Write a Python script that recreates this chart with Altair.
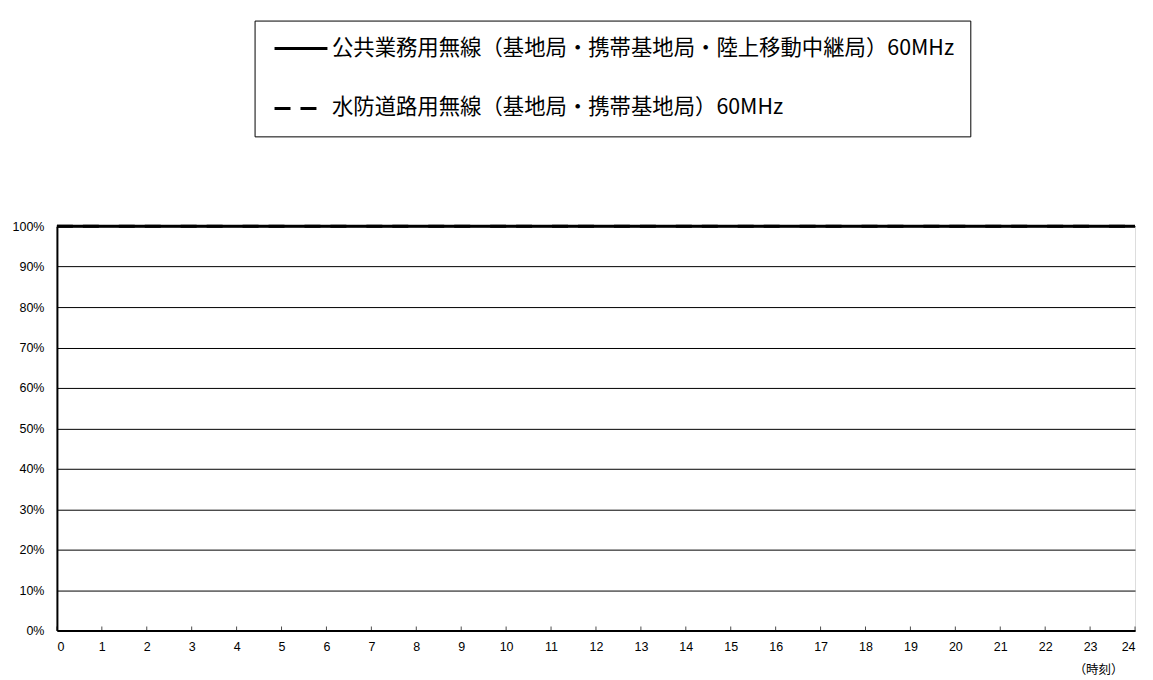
import altair as alt
import pandas as pd

hours = [0, 1, 2, 3, 4, 5, 6, 7, 8, 9, 10, 11, 12, 13, 14, 15, 16, 17, 18, 19, 20, 21, 22, 23, 24]
series_names = [
    "公共業務用無線（基地局・携帯基地局・陸上移動中継局）60MHz",
    "水防道路用無線（基地局・携帯基地局）60MHz",
]
public_values = [100, 100, 100, 100, 100, 100, 100, 100, 100, 100, 100, 100, 100,
                 100, 100, 100, 100, 100, 100, 100, 100, 100, 100, 100, 100]
flood_values = [100, 100, 100, 100, 100, 100, 100, 100, 100, 100, 100, 100, 100,
                100, 100, 100, 100, 100, 100, 100, 100, 100, 100, 100, 100]
y_ticks = [0, 10, 20, 30, 40, 50, 60, 70, 80, 90, 100]
x_title = "（時刻）"

rows = []
for h, v in zip(hours, public_values):
    rows.append({"hour": h, "value": v, "series": series_names[0]})
for h, v in zip(hours, flood_values):
    rows.append({"hour": h, "value": v, "series": series_names[1]})
df = pd.DataFrame(rows)
tick_df = pd.DataFrame({"hour": hours})

x_scale = alt.Scale(domain=[0, 24], nice=False, zero=False)
y_scale = alt.Scale(domain=[0, 100], nice=False)

lines = alt.Chart(df).mark_line(color="black", strokeWidth=3, clip=False).encode(
    x=alt.X("hour:Q", scale=x_scale,
            axis=alt.Axis(values=hours, title=x_title, ticks=False, tickSize=0,
                          labelPadding=10, labelFontSize=12.5, labelFont="Liberation Sans",
                          labelColor="black", grid=False, domainColor="black", domainWidth=2,
                          titleFont="Noto Sans CJK JP", titleFontSize=12.5, titleFontWeight="normal",
                          titleX=1068, titleY=39, titleAlign="right", titleBaseline="middle",
                          titleColor="black")),
    y=alt.Y("value:Q", scale=y_scale,
            axis=alt.Axis(values=y_ticks, title=None, ticks=False, tickSize=0,
                          labelPadding=13, labelFontSize=12.5, labelFont="Liberation Sans",
                          labelColor="black", labelExpr="datum.value + '%'",
                          grid=True, gridColor="black", gridWidth=1, gridOpacity=1,
                          domainColor="black", domainWidth=2)),
    strokeDash=alt.StrokeDash(
        "series:N",
        scale=alt.Scale(domain=series_names, range=[[1, 0], [16, 10, 16, 20]]),
        legend=alt.Legend(
            title=None, orient="none", legendX=198, legendY=-206,
            symbolType="stroke", symbolSize=2809, symbolStrokeWidth=3,
            symbolStrokeColor="black", symbolOffset=2.5,
            labelFont="Noto Sans CJK JP", labelFontSize=21.4, labelColor="black",
            labelLimit=1000, labelOffset=3,
            clipHeight=24, rowPadding=36, padding=16,
            strokeColor="black", fillColor="white",
        ),
    ),
)

ticks = alt.Chart(tick_df).mark_tick(orient="vertical", color="black", size=4,
                                       thickness=1, yOffset=-2).encode(
    x=alt.X("hour:Q", scale=x_scale),
    y=alt.datum(0),
)

chart = alt.layer(ticks, lines).properties(
    width=1080, height=405,
    padding={"left": 49, "top": 218, "right": 10, "bottom": 50},
    autosize=alt.AutoSizeParams(type="none"),
).configure_view(stroke="#777", strokeWidth=1.5).configure(background="white")

chart.save("out.html", embed_options={"renderer": "svg", "actions": False})
